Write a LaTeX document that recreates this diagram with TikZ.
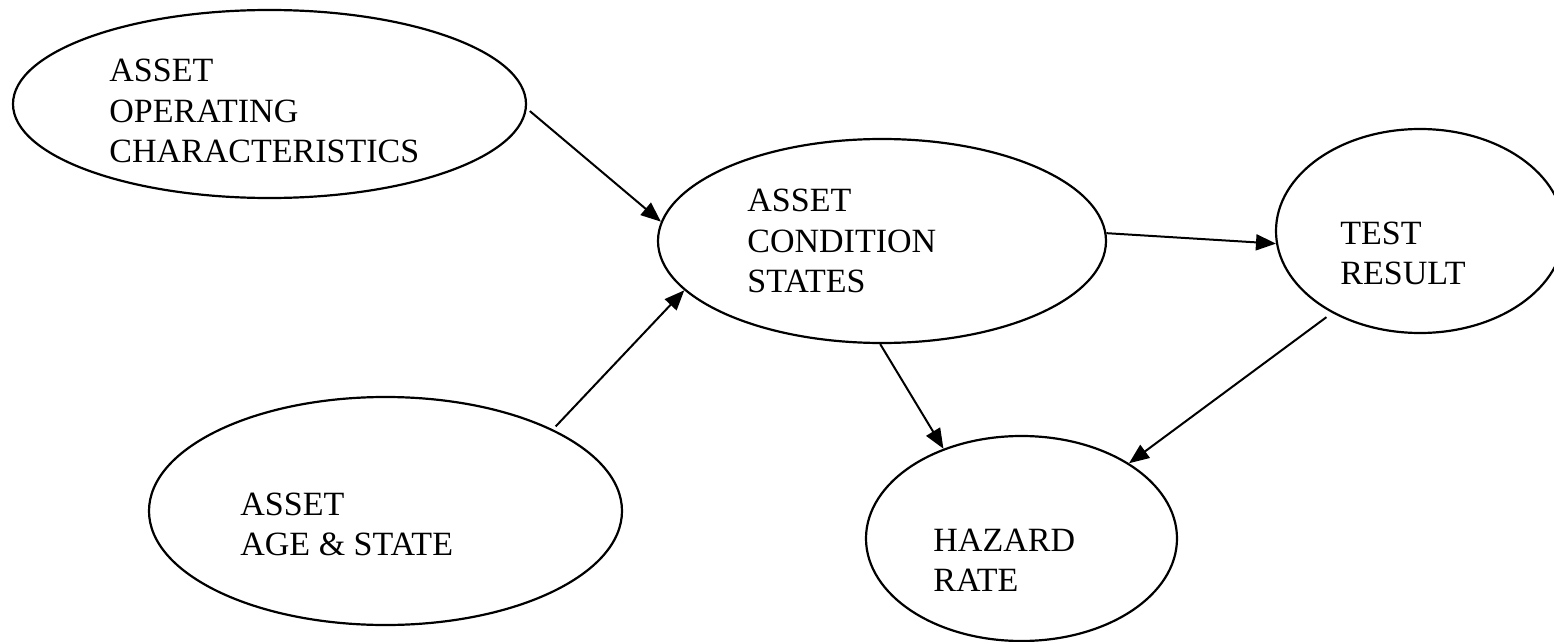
\documentclass[tikz,border=0pt]{standalone}
\usepackage{fontspec}
\setmainfont{Liberation Serif}
\usetikzlibrary{shapes.geometric,arrows.meta}
\tikzset{
  oval/.style={ellipse, draw, line width=1.1pt, inner sep=0pt},
  lbl/.style={anchor=base west, inner sep=0pt, font=\fontsize{17pt}{20.25pt}\selectfont},
  conn/.style={line width=1pt, -{Triangle[length=10pt,width=8pt]}}
}
\newcommand{\lines}[1]{\begin{tabular}[t]{@{}l@{}}#1\end{tabular}}
\begin{document}
\begin{tikzpicture}[x=0.5pt,y=-0.5pt]
\clip (0,0) rectangle (1554,642);
\fill[white] (0,0) rectangle (1554,642);
% ellipses
\node[oval, minimum width=256.5pt, minimum height=94pt] (e1) at (269.5,104) {};
\node[oval, minimum width=224pt, minimum height=102pt] (e2) at (882,241) {};
\node[oval, minimum width=144pt, minimum height=102pt] (e3) at (1420,231) {};
\node[oval, minimum width=236.5pt, minimum height=114pt] (e4) at (385.5,511) {};
\node[oval, minimum width=155.5pt, minimum height=102.5pt] (e5) at (1021.5,538.5) {};
% texts
\node[lbl] (t1) at (109,82) {\lines{ASSET\\OPERATING\\CHARACTERISTICS}};
\node[lbl] (t2) at (747,212) {\lines{ASSET\\CONDITION\\STATES}};
\node[lbl] (t3) at (1340,244) {\lines{TEST\\RESULT}};
\node[lbl] (t4) at (240,515) {\lines{ASSET\\AGE \& STATE}};
\node[lbl] (t5) at (933,551) {\lines{HAZARD\\RATE}};
% connectors
\draw[conn, shorten <=2pt] (e1.-1.5) -- (e2.175.8);
\draw[conn, shorten <=2pt] (e4.26) -- (e2.-166.6);
\draw[conn] (e2.2.3) -- (e3.-175.3);
\draw[conn] (e2.-91.1) -- (e5.131.6);
\draw[conn, shorten <=3.5pt] (e3.-137.2) -- (e5.35.3);
\end{tikzpicture}
\end{document}
